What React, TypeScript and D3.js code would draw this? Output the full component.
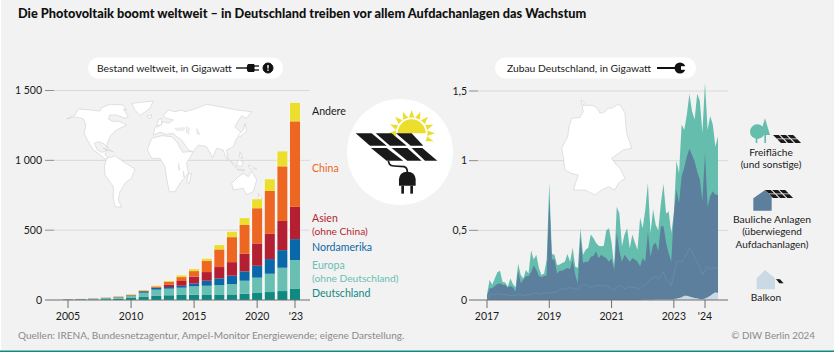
import React from "react";
import * as d3 from "d3";

const FONT = "Lato, 'Open Sans', sans-serif";

// ---- left chart data (GW, cumulative stock by region)
const years = d3.range(2005, 2024);
const deutschland = [2, 3, 4, 6, 10, 18, 25, 32, 34, 36, 38, 36, 36, 40, 45, 50, 57, 64, 79];
const europa = [1, 2, 4, 8, 9, 13, 27, 42, 47, 52, 60, 66, 71, 74, 93, 110, 131, 167, 207];
const nordamerika = [1, 1, 1, 1, 2, 2, 10, 12, 12, 14, 21, 36, 48, 60, 67, 85, 105, 126, 150];
const asien = [1, 1, 1, 1, 2, 2, 3, 4, 17, 34, 48, 62, 81, 97, 126, 160, 183, 209, 231];
const china = [0, 0, 0, 0, 1, 2, 2, 7, 19, 28, 40, 79, 126, 179, 207, 252, 305, 391, 612];
const andere = [1, 1, 1, 1, 3, 4, 4, 5, 7, 12, 14, 16, 31, 38, 48, 64, 83, 107, 132];
const regionKeys = ["deutschland", "europa", "nordamerika", "asien", "china", "andere"];
const regionColors = ["#0f8a82", "#6abfb3", "#0b68a8", "#b51f32", "#ee6722", "#ebde2c"];
const leftTicks = [0, 500, 1000, 1500];
const leftTickLabels = ["0", "500", "1 000", "1 500"];
const leftYearTicks = [2005, 2010, 2015, 2020, 2023];
const leftYearLabels = ["2005", "2010", "2015", "2020", "'23"];

// ---- right chart data (GW, monthly additions in Germany, Jan 2017 onward)
const gesamt = [
  0.04, 0.145, 0.11, 0.155, 0.2, 0.21, 0.13, 0.125, 0.095, 0.155,
  0.115, 0.09, 0.26, 0.18, 0.155, 0.215, 0.19, 0.355, 0.29, 0.325,
  0.23, 0.18, 0.19, 0.29, 0.84, 0.33, 0.325, 0.25, 0.255, 0.265,
  0.275, 0.33, 0.275, 0.375, 0.24, 0.23, 0.515, 0.325, 0.36, 0.375,
  0.47, 0.445, 0.41, 0.39, 0.385, 0.39, 0.5, 0.515, 0.41, 0.24,
  0.67, 0.62, 0.385, 0.47, 0.515, 0.37, 0.47, 0.41, 0.36, 0.59,
  0.515, 0.65, 0.84, 0.48, 0.65, 0.54, 0.5, 0.695, 0.835, 0.62,
  0.635, 0.48, 0.62, 1.0, 0.91, 1.26, 1.22, 1.33, 1.48, 1.355,
  1.295, 1.48, 1.43, 1.2, 1.56, 1.22, 1.32, 1.26, 1.1, 1.175,
];
const bauliche = [
  0.03, 0.085, 0.085, 0.1, 0.115, 0.12, 0.11, 0.11, 0.09, 0.1,
  0.09, 0.06, 0.21, 0.12, 0.145, 0.17, 0.17, 0.2, 0.25, 0.215,
  0.17, 0.165, 0.17, 0.18, 0.73, 0.29, 0.29, 0.19, 0.21, 0.21,
  0.22, 0.23, 0.22, 0.29, 0.18, 0.12, 0.455, 0.265, 0.275, 0.275,
  0.31, 0.315, 0.35, 0.3, 0.325, 0.31, 0.3, 0.275, 0.3, 0.215,
  0.48, 0.35, 0.275, 0.325, 0.3, 0.275, 0.3, 0.29, 0.275, 0.24,
  0.3, 0.275, 0.49, 0.31, 0.395, 0.41, 0.35, 0.53, 0.53, 0.41,
  0.335, 0.275, 0.62, 0.79, 0.695, 0.89, 0.95, 1.03, 1.085, 1.04,
  0.995, 0.92, 0.865, 0.71, 1.055, 0.67, 0.745, 0.78, 0.755, 0.755,
];
const innenlinie = [
  0, 0.04, 0.04, 0.04, 0.045, 0.045, 0.04, 0.04, 0.035, 0.03,
  0.035, 0.03, 0.04, 0.04, 0.03, 0.035, 0.04, 0.04, 0.05, 0.05,
  0.04, 0.045, 0.05, 0.05, 0.05, 0.05, 0.055, 0.06, 0.08, 0.08,
  0.075, 0.08, 0.09, 0.085, 0.08, 0.075, 0.1, 0.11, 0.11, 0.1,
  0.09, 0.1, 0.1, 0.105, 0.1, 0.1, 0.105, 0.09, 0.08, 0.07,
  0.09, 0.1, 0.1, 0.08, 0.09, 0.095, 0.09, 0.09, 0.08, 0.08,
  0.1, 0.11, 0.13, 0.15, 0.16, 0.17, 0.15, 0.18, 0.2, 0.15,
  0.13, 0.1, 0.18, 0.27, 0.28, 0.27, 0.3, 0.33, 0.37, 0.35,
  0.31, 0.27, 0.23, 0.18, 0.21, 0.24, 0.22, 0.23, 0.23, 0.22,
];
const balkon = [
  0, 0, 0, 0, 0, 0, 0, 0, 0, 0,
  0, 0, 0, 0, 0, 0, 0, 0, 0, 0,
  0, 0, 0, 0, 0, 0, 0, 0, 0, 0,
  0, 0, 0, 0, 0, 0, 0, 0, 0, 0,
  0, 0, 0, 0, 0, 0, 0, 0, 0, 0,
  0, 0, 0, 0, 0, 0, 0, 0, 0, 0,
  0.001, 0.001, 0.002, 0.002, 0.002, 0.003, 0.003, 0.003, 0.003, 0.004,
  0.004, 0.004, 0.005, 0.01, 0.015, 0.02, 0.03, 0.03, 0.025, 0.02,
  0.015, 0.012, 0.008, 0.005, 0.01, 0.02, 0.03, 0.045, 0.055, 0.05,
];
const rightTicks = [0, 0.5, 1, 1.5];
const rightTickLabels = ["0", "0,5", "1", "1,5"];
const rightYearTicks = [0, 24, 48, 72, 84];
const rightYearLabels = ["2017", "2019", "2021", "2023", "'24"];

// ---- decorative outlines, traced at 3x
const worldShapes = [
  "M20,72 L45,60 L55,42 L90,45 L120,48 L125,38 L150,28 L190,30 L200,45 L190,42 L205,65 L195,70 L170,60 L150,60 L145,72 L160,80 L175,78 L190,85 L200,90 L180,100 L165,108 L150,125 L140,150 L145,160 L130,145 L115,140 L103,145 L112,165 L125,172 L135,170 L140,165 L135,180 L148,192 L135,192 L115,175 L100,165 L85,140 L72,115 L78,90 L70,72 L45,65 Z",
  "M215,25 L280,18 L270,40 L240,62 L225,45 Z",
  "M140,190 L165,183 L190,200 L225,222 L215,248 L195,265 L180,290 L175,315 L185,337 L165,335 L160,310 L160,275 L135,240 L133,215 Z",
  "M262,165 L275,130 L305,122 L335,125 L350,140 L368,172 L385,170 L400,170 L380,205 L385,235 L360,265 L345,290 L328,290 L320,250 L315,215 L300,190 L275,190 Z",
  "M280,120 L285,98 L300,92 L310,80 L325,85 L340,75 L320,70 L310,62 L325,45 L345,50 L365,45 L375,50 L410,40 L440,28 L480,35 L530,45 L575,50 L560,70 L545,62 L530,85 L525,95 L545,115 L530,130 L520,155 L500,165 L505,195 L495,180 L490,165 L470,160 L458,188 L440,155 L415,150 L400,170 L385,165 L365,135 L350,125 L340,115 L320,118 L300,112 Z",
  "M385,238 L395,235 L388,265 L380,262 Z",
  "M515,265 L535,245 L550,235 L565,245 L575,228 L590,255 L580,290 L560,300 L550,280 L520,285 Z",
  "M510,195 L530,215 L525,218 Z",
  "M535,195 L550,200 L545,215 L530,212 Z",
  "M565,210 L590,222 L570,222 Z",
  "M540,170 L548,190 L538,185 Z",
  "M555,85 L560,110 L540,125 L535,120 L550,105 Z",
  "M295,75 L305,70 L305,90 L290,92 Z",
  "M262,62 L275,60 L272,70 L262,68 Z",
  "M595,295 L605,310 L595,318 Z",
  "M130,160 L160,170 L145,165 Z",
  "M532,222 L555,226 L532,225 Z",
];
const germanyShape =
  "M78,30 L88,38 L84,46 L104,46 L110,45 L120,50 L128,58 L135,70 L148,66 L160,55 L172,54 L185,45 L195,45 L204,58 L210,70 L212,100 L215,130 L222,150 L230,175 L205,180 L188,192 L170,205 L182,222 L195,235 L210,265 L190,280 L180,300 L160,290 L140,300 L120,315 L90,300 L55,300 L62,278 L70,255 L48,250 L30,240 L26,208 L20,175 L38,140 L42,112 L50,85 L75,82 L85,65 Z";
const lakes = ["M355,205 L360,225 L356,225 Z", "M370,228 L374,245 L370,245 Z", "M410,100 L420,118 L412,118 Z"];
const seas = ["M345,100 L375,98 L370,106 L350,106 Z", "M380,95 L388,100 L386,118 L379,112 Z"];

const panelsRow1 = [
  "M497,130 L545,130 L590,167 L540,167 Z",
  "M557,130 L605,130 L650,167 L600,167 Z",
  "M618,130 L665,130 L700,167 L662,167 Z",
];
const panelsRow2 = [
  "M543,174 L590,174 L640,212 L590,212 Z",
  "M605,174 L652,174 L695,212 L652,212 Z",
  "M665,174 L697,174 L742,212 L705,212 Z",
];
const sunRayAngles = [-180, -158, -135, -112, -90, -68, -45, -22, 0, 20];

function Panel({ x, y, s }: { x: number; y: number; s: number }) {
  const paths = [0, 1, 2].flatMap((i) => [
    `M${i * 10},0 L${i * 10 + 8},0 L${i * 10 + 13},5 L${i * 10 + 5},5 Z`,
    `M${i * 10 + 6},6 L${i * 10 + 14},6 L${i * 10 + 19},11 L${i * 10 + 11},11 Z`,
  ]);
  return (
    <g transform={`translate(${x},${y}) scale(${s})`} fill="#1a1a1a">
      {paths.map((d, i) => <path key={i} d={d} />)}
    </g>
  );
}

export default function App() {
  const W = 834, H = 352;

  // left scales
  const yL = d3.scaleLinear().domain([0, 1500]).range([300, 90.5]);
  const xL = d3.scaleLinear().domain([2005, 2023]).range([68, 295]);
  const rows = years.map((y, i) => ({
    year: y,
    deutschland: deutschland[i],
    europa: europa[i],
    nordamerika: nordamerika[i],
    asien: asien[i],
    china: china[i],
    andere: andere[i],
  }));
  const stacked = d3.stack<any>().keys(regionKeys)(rows);
  const barW = 10.2;

  // right scales
  const yR = d3.scaleLinear().domain([0, 1.5]).range([300, 91]);
  const xR = d3.scaleLinear().domain([0, 84]).range([487, 705]);
  const areaTop = (vals: number[]) =>
    d3.area<number>().x((_, i) => xR(i)).y0(yR(0)).y1((v) => yR(v))(vals) as string;
  const inner = d3.line<number>().x((_, i) => xR(i)).y((v) => yR(v))(innenlinie) as string;

  const text = (s: string, x: number, y: number, opts: any = {}) => (
    <text x={x} y={y} fontFamily={FONT} fontSize={opts.size ?? 10.5} fill={opts.fill ?? "#1a1a1a"}
      textAnchor={opts.anchor ?? "start"} fontWeight={opts.weight ?? 400}>{s}</text>
  );

  return (
    <svg width={W} height={H} viewBox={`0 0 ${W} ${H}`} style={{ position: "absolute", left: 0, top: 0, display: "block" }}>
      <rect width={W} height={H} fill="#fff" />
      <rect x={1} y={0} width={W - 1} height={350.5} fill="#f2f2f2" />
      <rect x={0} y={350.5} width={W} height={1.5} fill="#0f8a82" />

      {text("Die Photovoltaik boomt weltweit – in Deutschland treiben vor allem Aufdachanlagen das Wachstum", 18, 18, { size: 12.75, weight: 900, fill: "#111" })}

      {/* left panel */}
      <rect x={88} y={57.5} width={195} height={21} rx={10.5} fill="#fff" />
      {text("Bestand weltweit, in Gigawatt", 97, 71.5, { size: 10.3 })}
      <g stroke="#111" fill="#111">
        <line x1={236} x2={248} y1={68} y2={68} strokeWidth={1.4} />
        <path d="M248,64.5 L254,64.5 L254,71.5 L248,71.5 Q246,68 248,64.5 Z" />
        <line x1={254} x2={259} y1={66} y2={66} strokeWidth={1.3} />
        <line x1={254} x2={259} y1={70} y2={70} strokeWidth={1.3} />
        <circle cx={268} cy={68} r={5} />
      </g>
      <rect x={267.3} y={65} width={1.4} height={3.5} fill="#fff" />
      <rect x={267.3} y={69.5} width={1.4} height={1.4} fill="#fff" />

      {leftTicks.map((t, i) => (
        <g key={t}>
          {i > 0 && <line x1={54} x2={310} y1={yL(t)} y2={yL(t)} stroke="#d9d9d9" strokeWidth={1} />}
          {i > 0 && <line x1={45} x2={54} y1={yL(t)} y2={yL(t)} stroke="#8c8c8c" strokeWidth={1} />}
          {text(leftTickLabels[i], 42, yL(t) + 3.8, { anchor: "end" })}
        </g>
      ))}

      <g transform="translate(60,95) scale(0.3333)" fill="#fff" stroke="#cfcfcf" strokeWidth={1.8} strokeLinejoin="round">
        {worldShapes.map((d, i) => <path key={i} d={d} />)}
        {lakes.concat(seas).map((d, i) => <path key={i} d={d} fill="#f2f2f2" strokeWidth={1.2} />)}
      </g>

      {stacked.map((s, k) => (
        <g key={k} fill={regionColors[k]}>
          {s.map((d: any) => (
            <rect key={d.data.year} x={xL(d.data.year) - barW / 2} width={barW}
              y={yL(d[1])} height={Math.max(0, yL(d[0]) - yL(d[1]))} />
          ))}
        </g>
      ))}
      <g fill="none" stroke="#fff" strokeOpacity={0.6} strokeWidth={0.9}>
        {rows.filter((r) => r.year >= 2010).map((r, i) => {
          const top = r.deutschland + r.europa + r.nordamerika + r.asien + r.china + r.andere;
          return (
            <g key={i}>
              <line x1={xL(r.year) - barW / 2 - 0.5} x2={xL(r.year) - barW / 2 - 0.5} y1={yL(top)} y2={yL(0)} />
              <line x1={xL(r.year) + barW / 2 + 0.5} x2={xL(r.year) + barW / 2 + 0.5} y1={yL(top)} y2={yL(0)} />
            </g>
          );
        })}
      </g>

      <line x1={45} x2={310} y1={300} y2={300} stroke="#6e6e6e" strokeWidth={1} />
      {leftYearTicks.map((t, i) => (
        <g key={t}>
          <line x1={xL(t)} x2={xL(t)} y1={300} y2={308} stroke="#6e6e6e" strokeWidth={1} />
          {text(leftYearLabels[i], xL(t) + (t === 2023 ? 1 : 0), 320, { anchor: "middle" })}
        </g>
      ))}

      {text("Andere", 312, 114.5, { size: 10.6 })}
      {text("China", 312, 171.5, { size: 10.6, fill: regionColors[4] })}
      {text("Asien", 312, 222, { size: 10.6, fill: regionColors[3] })}
      {text("(ohne China)", 312, 234.5, { size: 10.2, fill: regionColors[3] })}
      {text("Nordamerika", 312, 250.5, { size: 10.6, fill: regionColors[2] })}
      {text("Europa", 312, 269, { size: 10.6, fill: regionColors[1] })}
      {text("(ohne Deutschland)", 312, 281.5, { size: 10.2, fill: regionColors[1] })}
      {text("Deutschland", 312, 296.5, { size: 10.6, fill: regionColors[0] })}

      {/* solar icon */}
      <circle cx={400} cy={152} r={53} fill="#fff" />
      <g transform="translate(190,90) scale(0.3333)">
        {sunRayAngles.map((a) => {
          const r = (a * Math.PI) / 180;
          const cx = 665, cy = 130;
          const p = (rad: number, off: number) => `${cx + rad * Math.cos(r + off)},${cy + rad * Math.sin(r + off)}`;
          return <polygon key={a} points={`${p(48, -0.17)} ${p(70, 0)} ${p(48, 0.17)}`} fill="#ebde2c" />;
        })}
        <path d="M623,130 A42,42 0 0 1 707,130 Z" fill="#ebde2c" />
        {panelsRow1.concat(panelsRow2).map((d, i) => <path key={i} d={d} fill="#1a1a1a" />)}
        <path d="M595,212 L598,222 Q602,228 612,228 L642,230 Q652,232 652,246" fill="none" stroke="#1a1a1a" strokeWidth={5} />
        <path d="M627,287 L627,268 Q628,246 652,245 Q676,246 677,268 L677,287 Z" fill="#1a1a1a" />
        <rect x={634} y={287} width={8} height={24} fill="#1a1a1a" />
        <rect x={661} y={287} width={8} height={24} fill="#1a1a1a" />
      </g>

      {/* right panel */}
      <rect x={495} y={57.5} width={201} height={21} rx={10.5} fill="#fff" />
      {text("Zubau Deutschland, in Gigawatt", 507, 71.5, { size: 10.3 })}
      <line x1={657} x2={676} y1={68} y2={68} stroke="#111" strokeWidth={2} />
      <circle cx={680} cy={68} r={5.5} fill="#111" />
      <rect x={681} y={66.2} width={6} height={3.6} fill="#fff" />

      {rightTicks.map((t, i) => (
        <g key={t}>
          {i > 0 && <line x1={478} x2={728} y1={yR(t)} y2={yR(t)} stroke="#d9d9d9" strokeWidth={1} />}
          {i > 0 && <line x1={469} x2={478} y1={yR(t)} y2={yR(t)} stroke="#8c8c8c" strokeWidth={1} />}
          {text(rightTickLabels[i], 467, yR(t) + 3.8, { anchor: "end" })}
        </g>
      ))}

      <g transform="translate(555,90) scale(0.3333)">
        <path d={germanyShape} fill="#fff" stroke="#cfcfcf" strokeWidth={1.8} strokeLinejoin="round" />
      </g>

      <path d={areaTop(gesamt)} fill="#65bdae" />
      <path d={areaTop(bauliche)} fill="#5b7f9c" />
      <path d={inner} fill="none" stroke="#fff" strokeOpacity={0.12} strokeWidth={0.8} />
      <path d={areaTop(balkon)} fill="#c9dae4" />

      <line x1={469} x2={728} y1={300} y2={300} stroke="#6e6e6e" strokeWidth={1} />
      {rightYearTicks.map((t, i) => (
        <g key={t}>
          <line x1={xR(t)} x2={xR(t)} y1={300} y2={308} stroke="#6e6e6e" strokeWidth={1} />
          {text(rightYearLabels[i], xR(t), 320, { anchor: "middle" })}
        </g>
      ))}

      {/* legend */}
      <g transform="translate(720,100) scale(0.3333)">
        <circle cx={112} cy={95} r={22} fill="#65bdae" />
        <path d="M135,55 L150,105 L120,105 Z" fill="#65bdae" />
        <rect x={107} y={105} width={5} height={24} fill="#65bdae" />
        <rect x={133} y={100} width={5} height={29} fill="#65bdae" />
        <path d="M100,295 L135,270 L155,290 L155,332 L100,332 Z" fill="#5b7f9c" />
        <path d="M110,535 L135,510 L165,535 L165,568 L110,568 Z" fill="#c9dae4" />
        <path d="M168,537 L180,538 L191,550 L178,550 Z" fill="#1a1a1a" />
      </g>
      <Panel x={773} y={135} s={0.72} />
      <Panel x={765} y={190} s={0.72} />
      {text("Freifläche", 771, 155.5, { anchor: "middle", size: 10.2 })}
      {text("(und sonstige)", 771, 168, { anchor: "middle", size: 10 })}
      {text("Bauliche Anlagen", 772, 222.5, { anchor: "middle", size: 10.4 })}
      {text("(überwiegend", 772, 235, { anchor: "middle", size: 10 })}
      {text("Aufdachanlagen)", 772, 248, { anchor: "middle", size: 10 })}
      {text("Balkon", 766, 301, { anchor: "middle", size: 10.2 })}

      {text("Quellen: IRENA, Bundesnetzagentur, Ampel-Monitor Energiewende; eigene Darstellung.", 18, 339, { size: 10.05, fill: "#8a8a8a" })}
      {text("© DIW Berlin 2024", 815, 339, { size: 9.8, fill: "#8a8a8a", anchor: "end" })}
    </svg>
  );
}
